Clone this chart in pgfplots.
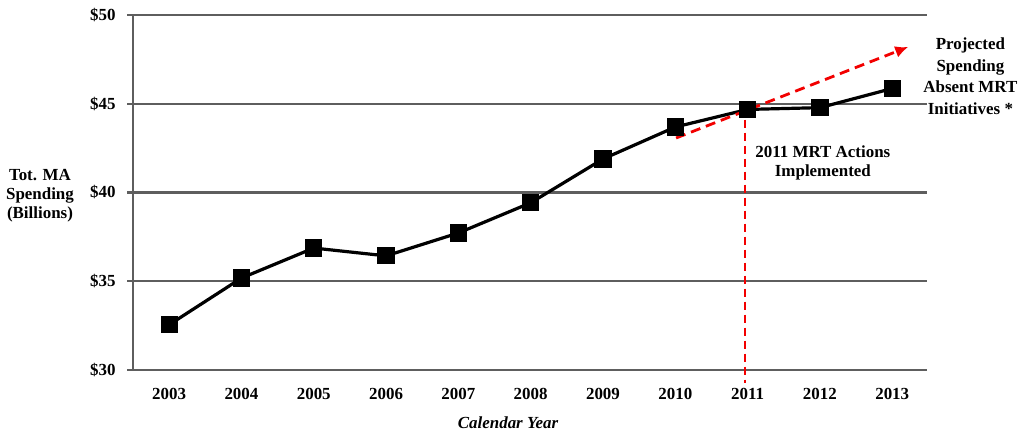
\documentclass[border=0pt]{standalone}
\usepackage{pgfplots}
\pgfplotsset{compat=1.18}
\usetikzlibrary{arrows.meta}
\usepackage{fontspec}
\setmainfont{Liberation Serif}
\definecolor{gridgray}{HTML}{5E5E5E}
\begin{document}
\begin{tikzpicture}
\path[use as bounding box] (-133bp,-66bp) rectangle (895bp,370bp);
\begin{axis}[
  at={(0,0)}, anchor=south west,
  scale only axis, width=794bp, height=355bp,
  xmin=2002.5, xmax=2013.48, ymin=30, ymax=50,
  axis x line=bottom, axis y line=left,
  axis line style={gridgray, line width=2.4bp, -},
  xtick={2003,...,2013}, ytick={30,35,40,45,50},
  xticklabel style={font=\fontsize{17}{20}\selectfont\bfseries, yshift=-9bp},
  yticklabel style={font=\fontsize{17}{20}\selectfont\bfseries, xshift=-8bp},
  /pgf/number format/1000 sep={},
  /pgf/number format/assume math mode=true,
  yticklabel={\$\pgfmathprintnumber{\tick}},
  major x tick style={draw=none},
  major y tick style={gridgray, line width=2.4bp},
  tick align=outside, major tick length=6bp,
  ymajorgrids, grid style={gridgray, line width=2.4bp},
  clip=false,
]
\addplot[black, line width=3.2bp, mark=square*, mark size=7bp, mark options={solid}]
coordinates {
(2003,32.55) (2004,35.18) (2005,36.87) (2006,36.43) (2007,37.72)
(2008,39.42) (2009,41.89) (2010,43.69) (2011,44.68) (2012,44.78) (2013,45.86)
};
\addplot[red!95!black, line width=2.8bp, dash pattern=on 10bp off 6bp, -{Latex[length=13bp,width=12bp]}]
coordinates {(2010.01,43.07) (2013.22,48.2)};
\addplot[red!95!black, line width=2bp, dash pattern=on 8bp off 5bp]
coordinates {(2010.96,44.1) (2010.96,29.25)};
\node[align=center, font=\fontsize{17}{19}\selectfont\bfseries] at (axis cs:2012.04,41.65) {2011 MRT Actions\\Implemented};
\node[align=center, font=\fontsize{17}{22}\selectfont\bfseries] at (axis cs:2014.08,46.55) {Projected\\Spending\\Absent MRT\\Initiatives *};
\end{axis}
\node[align=center, font=\fontsize{17}{19}\selectfont\bfseries] at (-93bp,174bp) {Tot. MA\\Spending\\(Billions)};
\node[font=\fontsize{17}{20}\selectfont\bfseries\itshape] at (375bp,-53bp) {Calendar Year};
\end{tikzpicture}
\end{document}
